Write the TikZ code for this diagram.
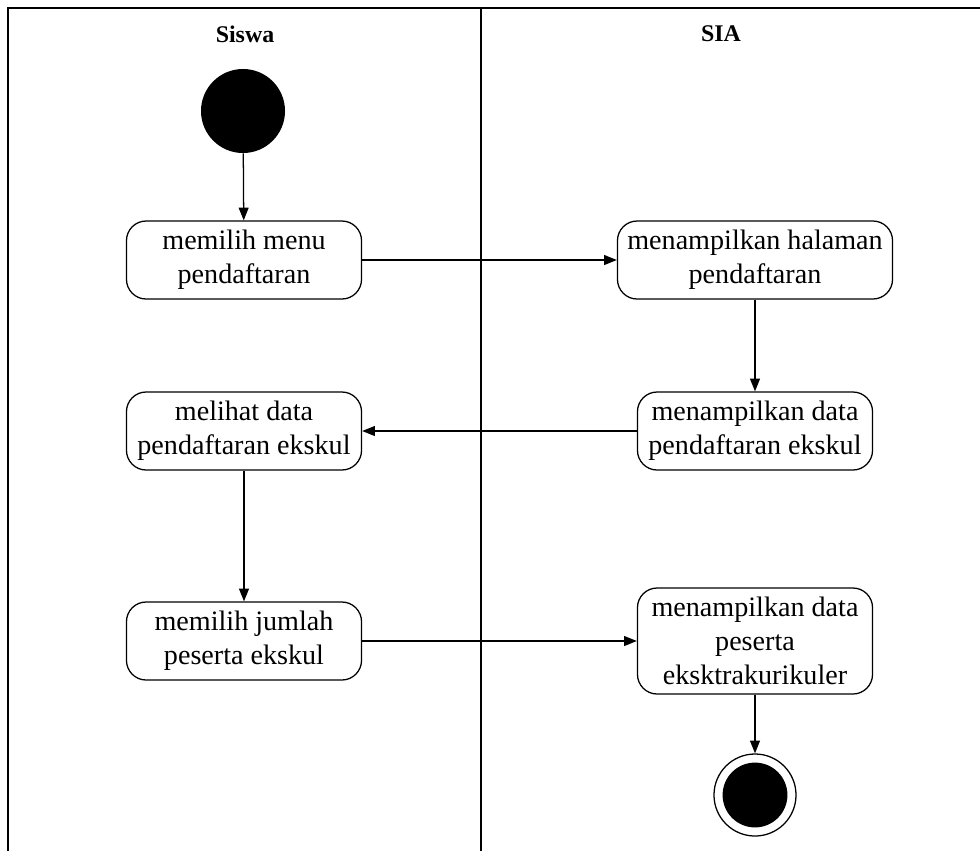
\documentclass[tikz,border=0pt]{standalone}
\usepackage{fontspec}
\setmainfont{Liberation Serif}
\usetikzlibrary{arrows.meta}

\tikzset{
  activity/.style={draw,rounded corners=14pt,align=center,line width=0.9pt,
    minimum width=5.875cm,minimum height=1.95cm,font=\fontsize{20}{24}\selectfont},
  lane/.style={font=\bfseries\fontsize{17}{20}\selectfont},
  flow/.style={-{Triangle[length=9pt,width=7pt]},line width=0.9pt}
}

\begin{document}
\begin{tikzpicture}[x=0.025cm,y=-0.025cm]
\useasboundingbox (0,0) rectangle (980,851);
\draw[line width=1.2pt] (980,8) -- (8,8) -- (8,851);
\draw[line width=0.9pt] (481,8) -- (481,851);
\node[lane] (siswa) at (245,34) {Siswa};
\node[lane] (sia) at (721,34) {SIA};
\node[circle,fill=black,minimum size=2.1cm,inner sep=0pt] (start) at (243,111) {};
\node[activity] (pilih) at (244,260) {memilih menu\\pendaftaran};
\node[activity,minimum width=6.875cm] (halaman) at (755,260) {menampilkan halaman\\pendaftaran};
\node[activity] (tampil) at (755,431) {menampilkan data\\pendaftaran ekskul};
\node[activity] (lihat) at (244,431) {melihat data\\pendaftaran ekskul};
\node[activity] (jumlah) at (244,641) {memilih jumlah\\peserta ekskul};
\node[activity,minimum height=2.65cm] (peserta) at (755,641) {menampilkan data\\peserta\\eksktrakurikuler};
\node[circle,draw,line width=0.9pt,minimum size=2.05cm,inner sep=0pt] (stop) at (755,795) {};
\node[circle,fill=black,minimum size=1.62cm,inner sep=0pt] (stopdot) at (stop) {};
\draw[flow] (start) -- (pilih);
\draw[flow] (pilih) -- (halaman);
\draw[flow] (halaman) -- (tampil);
\draw[flow] (tampil) -- (lihat);
\draw[flow] (lihat) -- (jumlah);
\draw[flow] (jumlah) -- (peserta);
\draw[flow] (peserta) -- (stop);
\end{tikzpicture}
\end{document}
